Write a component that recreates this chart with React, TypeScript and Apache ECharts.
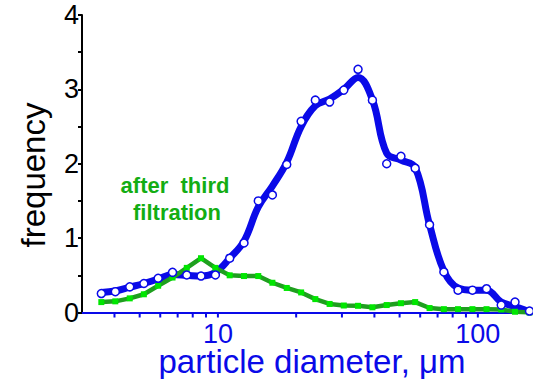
import React, { useEffect, useRef } from "react";
import * as echarts from "echarts";

// particle diameters (µm) of the measured size classes
const diameters = [
  3.56, 4.03, 4.58, 5.19, 5.89, 6.69, 7.59, 8.61, 9.78, 11.1, 12.6, 14.3, 16.2,
  18.4, 20.9, 23.7, 26.9, 30.5, 34.6, 39.3, 44.6, 50.6, 57.4, 65.2, 74.0, 83.9,
  95.3, 108, 123, 139, 158,
];
// measured frequency (open circles, blue)
const initialPoints = [
  0.255, 0.28, 0.345, 0.39, 0.46, 0.54, 0.505, 0.49, 0.505, 0.73, 0.935, 1.5,
  1.58, 1.99, 2.57, 2.855, 2.83, 2.99, 3.27, 2.855, 2.0, 2.1, 1.94, 1.18, 0.545,
  0.3, 0.3, 0.32, 0.1, 0.14, 0.02,
];
// smoothed fit through the blue points (thick blue curve)
const initialFit = [
  0.27, 0.29, 0.34, 0.39, 0.45, 0.51, 0.5, 0.49, 0.54, 0.73, 0.96, 1.42, 1.7,
  2.02, 2.5, 2.78, 2.87, 3.0, 3.16, 2.86, 2.14, 2.05, 1.95, 1.18, 0.56, 0.33,
  0.3, 0.3, 0.14, 0.08, 0.01,
];
// after third filtration (green squares)
const filteredValues = [
  0.14, 0.15, 0.19, 0.245, 0.36, 0.47, 0.6, 0.73, 0.6, 0.5, 0.49, 0.49, 0.4,
  0.33, 0.27, 0.18, 0.115, 0.094, 0.09, 0.07, 0.1, 0.125, 0.14, 0.06, 0.045,
  0.045, 0.045, 0.045, 0.04, 0.01, 0.0,
];
const xTickValues = [4, 5, 6, 7, 8, 9, 10, 20, 30, 40, 50, 60, 70, 80, 90, 100];
const xLabelValues = [10, 100];

const BLUE = "#0a0ae8";
const GREEN_LINE = "#1f9f1f";
const GREEN_MARK = "#00e600";
const GREEN_TEXT = "#13ad13";
const FONT = "'Liberation Sans', Arial, Helvetica, sans-serif";

export default function App() {
  const ref = useRef<HTMLDivElement>(null);
  useEffect(() => {
    if (!ref.current) return;
    const chart = echarts.init(ref.current, null, { renderer: "svg" });
    const option: any = {
      animation: false,
      backgroundColor: "#ffffff",
      grid: { left: 82, top: 15, width: 451, height: 297.5, containLabel: false },
      xAxis: {
        type: "log",
        logBase: 10,
        min: 3,
        max: 163,
        axisLine: { show: true, onZero: false, lineStyle: { color: BLUE, width: 2 } },
        axisTick: { show: false },
        minorTick: { show: false },
        splitLine: { show: false },
        axisLabel: {
          show: true,
          margin: 11,
          fontSize: 27,
          lineHeight: 20,
          fontFamily: FONT,
          color: BLUE,
          showMinLabel: false,
          showMaxLabel: false,
          formatter: (v: number) =>
            xLabelValues.includes(Math.round(v)) ? String(Math.round(v)) : "",
        },
      },
      yAxis: {
        type: "value",
        min: 0,
        max: 4,
        interval: 0.5,
        axisLine: { show: true, lineStyle: { color: "#000", width: 2 } },
        axisTick: { show: true, length: 4, lineStyle: { color: "#000", width: 2 } },
        splitLine: { show: false },
        axisLabel: {
          margin: 3,
          fontSize: 27,
          fontFamily: FONT,
          color: "#000",
          formatter: (v: number) => (Number.isInteger(v) ? String(v) : ""),
        },
      },
      series: [
        {
          type: "line",
          data: diameters.map((d, i) => [d, initialFit[i]]),
          smooth: 0.4,
          showSymbol: false,
          lineStyle: { color: BLUE, width: 7 },
          z: 2,
        },
        {
          type: "line",
          data: diameters.map((d, i) => [d, filteredValues[i]]),
          symbol: "rect",
          symbolSize: 6,
          itemStyle: { color: GREEN_MARK, opacity: 1 },
          lineStyle: { color: GREEN_LINE, width: 4.5 },
          z: 3,
        },
        {
          type: "scatter",
          data: diameters.map((d, i) => [d, initialPoints[i]]),
          symbol: "circle",
          symbolSize: 8,
          itemStyle: { color: "#ffffff", borderColor: BLUE, borderWidth: 1.5, opacity: 1 },
          z: 4,
        },
        {
          type: "custom",
          data: xTickValues.map((v) => [v, 0]),
          clip: false,
          z: 5,
          renderItem: (params: any, api: any) => {
            const p = api.coord([api.value(0), 0]);
            return {
              type: "line",
              shape: { x1: p[0], y1: p[1], x2: p[0], y2: p[1] + 5 },
              style: { stroke: BLUE, lineWidth: 2 },
            };
          },
        },
      ],
      graphic: [
        {
          type: "text",
          x: 33,
          y: 175,
          rotation: Math.PI / 2,
          style: {
            text: "frequency",
            font: `33px ${FONT}`,
            fill: "#000",
            textAlign: "center",
            textVerticalAlign: "middle",
          },
        },
        {
          type: "text",
          x: 312,
          y: 361,
          style: {
            text: "particle diameter, μm",
            font: `33px ${FONT}`,
            lineHeight: 26,
            fill: BLUE,
            textAlign: "center",
            textVerticalAlign: "middle",
          },
        },
        {
          type: "text",
          x: 175,
          y: 185,
          style: {
            text: "after  third",
            font: `bold 22px ${FONT}`,
            fill: GREEN_TEXT,
            textAlign: "center",
            textVerticalAlign: "middle",
          },
        },
        {
          type: "text",
          x: 177,
          y: 212,
          style: {
            text: "filtration",
            font: `bold 22px ${FONT}`,
            fill: GREEN_TEXT,
            textAlign: "center",
            textVerticalAlign: "middle",
          },
        },
      ],
    };
    chart.setOption(option);
    return () => chart.dispose();
  }, []);
  return (
    <div
      ref={ref}
      style={{ position: "fixed", left: 0, top: 0, width: 533, height: 379 }}
    />
  );
}
